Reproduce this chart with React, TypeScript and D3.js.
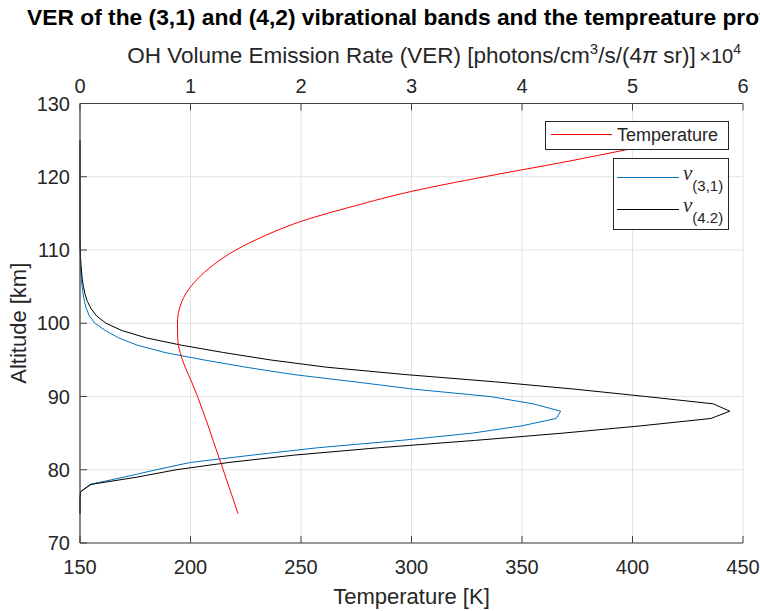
import React from 'react';
import * as d3 from 'd3';

// Altitude grid (km) for the emission profiles
const verAltitudes = [
  74, 75, 76, 77, 78, 79, 80, 81, 82, 83, 84, 85, 86, 87, 88, 89, 90, 91, 92, 93,
  94, 95, 96, 97, 98, 99, 100, 101, 102, 103, 104, 105, 106, 107, 108, 109, 110,
  111, 112, 125,
];
// VER of the (3,1) band, units of 1e4 photons/cm^3/s/(4π sr)
const ver31 = [
  0, 0, 0, 0.005, 0.09, 0.4, 0.69, 1.0, 1.56, 2.15, 2.9, 3.55, 4.0, 4.31, 4.35,
  4.1, 3.71, 3.02, 2.49, 1.93, 1.5, 1.12, 0.77, 0.52, 0.35, 0.23, 0.135, 0.085,
  0.057, 0.04, 0.028, 0.019, 0.013, 0.008, 0.005, 0.003, 0.0015, 0.0007, 0, 0,
];
// VER of the (4,2) band
const ver42 = [
  0, 0, 0, 0.005, 0.1, 0.52, 0.87, 1.35, 1.94, 2.7, 3.57, 4.37, 5.08, 5.71, 5.88,
  5.73, 5.12, 4.48, 3.76, 2.94, 2.23, 1.72, 1.3, 0.92, 0.6, 0.38, 0.235, 0.15, 0.1,
  0.066, 0.045, 0.031, 0.021, 0.014, 0.009, 0.005, 0.0025, 0.001, 0, 0,
];

// Temperature profile
const tempAltitudes = [
  74, 76, 78, 80, 82, 84, 86, 88, 90, 92, 94, 96, 98, 100, 102, 104, 106, 108, 110,
  112, 114, 116, 118, 120, 122, 123.8,
];
const temperatures = [
  221.5, 219.3, 217, 214.8, 212.5, 210.2, 208, 205.6, 203.2, 200.5, 197.6, 195.3,
  194.2, 194.1, 195, 197.8, 203, 210.5, 220.5, 234, 251, 274, 300, 333, 369, 399,
];

const tempTicks = [150, 200, 250, 300, 350, 400, 450];
const verTicks = [0, 1, 2, 3, 4, 5, 6];
const altTicks = [70, 80, 90, 100, 110, 120, 130];

const FONT = '"Liberation Sans", Arial, Helvetica, sans-serif';
const SERIF = '"Liberation Serif", "Times New Roman", serif';
const INK = '#262626';
const GRID = '#e2e2e2';
const AXIS = '#404040';

const X0 = 80;
const X1 = 743;
const Y0 = 543;
const Y1 = 103.5;

export default function App() {
  const xT = d3.scaleLinear().domain([150, 450]).range([X0, X1]);
  const xV = d3.scaleLinear().domain([0, 6]).range([X0, X1]);
  const y = d3.scaleLinear().domain([70, 130]).range([Y0, Y1]);

  const tempLine = d3
    .line<number>()
    .x((_, i) => xT(temperatures[i]))
    .y((_, i) => y(tempAltitudes[i]))
    .curve(d3.curveMonotoneY);

  const verLine = (vals: number[]) =>
    d3
      .line<number>()
      .x((v) => xV(v))
      .y((_, i) => y(verAltitudes[i]))(vals) || '';

  const tick = 7;

  return (
    <svg
      width={760}
      height={611}
      style={{ position: 'absolute', left: 0, top: 0, background: '#fff' }}
      fontFamily={FONT}
    >
      <rect x={0} y={0} width={760} height={611} fill="#fff" />

      {/* grid */}
      {tempTicks.map((t) => (
        <line key={'gx' + t} x1={xT(t)} x2={xT(t)} y1={Y1} y2={Y0} stroke={GRID} strokeWidth={1} />
      ))}
      {altTicks.map((a) => (
        <line key={'gy' + a} x1={X0} x2={X1} y1={y(a)} y2={y(a)} stroke={GRID} strokeWidth={1} />
      ))}

      {/* emission profiles */}
      <path d={verLine(ver31)} fill="none" stroke="#0072BD" strokeWidth={1} />
      <path d={verLine(ver42)} fill="none" stroke="#000" strokeWidth={1} />

      {/* temperature */}
      <path d={tempLine(temperatures) || ''} fill="none" stroke="#ff0000" strokeWidth={1} />

      {/* axes lines */}
      <line x1={X0} x2={X0} y1={Y1} y2={Y0} stroke={AXIS} strokeWidth={1.2} />
      <line x1={X0} x2={X1} y1={Y0} y2={Y0} stroke={AXIS} strokeWidth={1.2} />
      <line x1={X0} x2={X1} y1={Y1} y2={Y1} stroke={AXIS} strokeWidth={1.2} />

      {/* bottom ticks & labels */}
      {tempTicks.map((t) => (
        <g key={'bt' + t}>
          <line x1={xT(t)} x2={xT(t)} y1={Y0} y2={Y0 - tick} stroke={AXIS} strokeWidth={1} />
          <text x={xT(t)} y={574} textAnchor="middle" fontSize={20} fill={INK}>
            {t}
          </text>
        </g>
      ))}
      {/* top ticks & labels */}
      {verTicks.map((v) => (
        <g key={'tt' + v}>
          <line x1={xV(v)} x2={xV(v)} y1={Y1} y2={Y1 + tick} stroke={AXIS} strokeWidth={1} />
          <text x={xV(v)} y={93} textAnchor="middle" fontSize={20} fill={INK}>
            {v}
          </text>
        </g>
      ))}
      {/* left ticks & labels */}
      {altTicks.map((a) => (
        <g key={'lt' + a}>
          <line x1={X0} x2={X0 + tick} y1={y(a)} y2={y(a)} stroke={AXIS} strokeWidth={1} />
          <text x={70} y={y(a)} dy="0.35em" textAnchor="end" fontSize={20} fill={INK}>
            {a}
          </text>
        </g>
      ))}

      {/* axis titles */}
      <text x={(X0 + X1) / 2} y={604} textAnchor="middle" fontSize={22} fill={INK}>
        Temperature [K]
      </text>
      <text
        transform={`translate(26,${(Y0 + Y1) / 2}) rotate(-90)`}
        textAnchor="middle"
        fontSize={22}
        fill={INK}
      >
        Altitude [km]
      </text>
      <text x={(X0 + X1) / 2} y={63} textAnchor="middle" fontSize={22.5} fill={INK}>
        OH Volume Emission Rate (VER) [photons/cm
        <tspan dy={-9} fontSize={15}>3</tspan>
        <tspan dy={9}>/s/(4</tspan>
        <tspan fontStyle="italic">π</tspan> sr)]
      </text>
      <text x={741} y={63} textAnchor="end" fontSize={20} fill={INK}>
        ×10
        <tspan dy={-9} fontSize={14}>4</tspan>
      </text>

      {/* title, running past the right edge of the figure */}
      <text x={27} y={25} fontSize={22.8} fontWeight="bold" fill="#000">
        VER of the (3,1) and (4,2) vibrational bands and the tempreature profile
      </text>

      {/* legend: temperature */}
      <rect x={545.5} y={121.5} width={183} height={28} fill="#fff" stroke={INK} strokeWidth={1} />
      <line x1={551} x2={612} y1={134.5} y2={134.5} stroke="#ff0000" strokeWidth={1} />
      <text x={617} y={141} fontSize={18} fill={INK}>
        Temperature
      </text>

      {/* legend: bands */}
      <rect x={613.5} y={158.5} width={115} height={71} fill="#fff" stroke={INK} strokeWidth={1} />
      <line x1={617} x2={679} y1={177.5} y2={177.5} stroke="#0072BD" strokeWidth={1} />
      <line x1={617} x2={679} y1={209.5} y2={209.5} stroke="#000" strokeWidth={1} />
      <text x={683} y={180} fill={INK}>
        <tspan fontFamily={SERIF} fontStyle="italic" fontSize={21}>
          ν
        </tspan>
        <tspan dy={11} fontSize={15} fontFamily={FONT}>
          (3,1)
        </tspan>
      </text>
      <text x={683} y={212} fill={INK}>
        <tspan fontFamily={SERIF} fontStyle="italic" fontSize={21}>
          ν
        </tspan>
        <tspan dy={11} fontSize={15} fontFamily={FONT}>
          (4.2)
        </tspan>
      </text>
    </svg>
  );
}
